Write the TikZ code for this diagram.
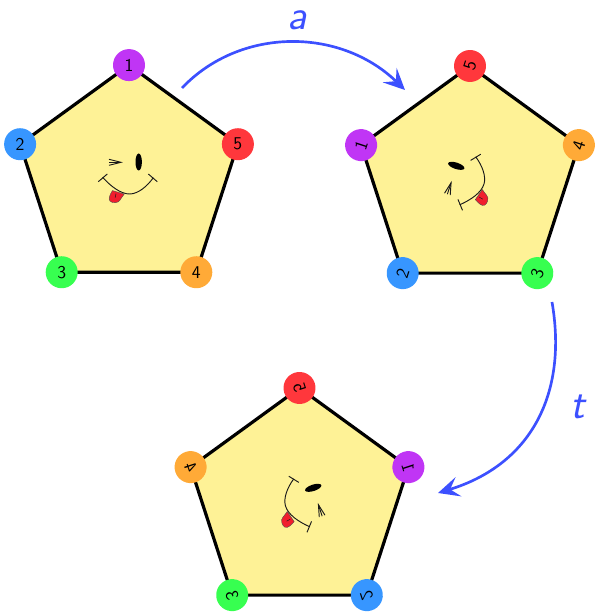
\documentclass[tikz,border=0pt]{standalone}
\usetikzlibrary{arrows.meta}
\definecolor{pfill}{RGB}{254,242,150}
\definecolor{cpurple}{RGB}{192,53,245}
\definecolor{cblue}{RGB}{55,150,255}
\definecolor{cgreen}{RGB}{55,255,80}
\definecolor{corange}{RGB}{255,170,55}
\definecolor{cred}{RGB}{255,55,60}
\definecolor{carrow}{RGB}{60,80,255}
\definecolor{ctongue}{RGB}{240,30,45}
\tikzset{
  x=.75pt,y=.75pt,
  pent/.style={draw=black,fill=pfill,line width=2.4pt,line join=miter},
  vertexdot/.style={circle,minimum size=24pt,inner sep=0pt,fill=#1,font=\fontsize{13.5}{13.5}\selectfont\sffamily,text=black},
  faceline/.style={draw=black!90,line width=.7pt},
  eyeball/.style={fill=black},
  tonguefill/.style={fill=ctongue,draw=black!70,line width=.3pt},
  mapping/.style={draw=carrow,line width=2pt,-{Stealth[length=16pt,width=15pt,inset=6.5pt]}},
  maplabel/.style={text=carrow,font=\fontsize{32}{32}\selectfont\sffamily\itshape,inner sep=0pt},
}
\newcommand{\smileface}{%
  \path[eyeball] (9.7,17.6) ellipse [x radius=3.2,y radius=8.5];
  \draw[faceline] (-20,20.3) -- (-8,17.3) -- (-20,14.3);
  \draw[faceline] (-20,17.3) -- (-8,17.3);
  \path[tonguefill] (-16.5,-11) .. controls (-19,-15) and (-21,-19) .. (-19,-21.5)
     .. controls (-16.5,-24) and (-10.5,-23.5) .. (-9,-20.5)
     .. controls (-8,-18) and (-6,-17) .. (-4.8,-14.5) -- cycle;
  \draw[faceline,line width=.35pt] (-13,-14) -- (-13.8,-18);
  \draw[faceline] (-26.3,2.3) .. controls (-18,-7) and (-8,-14.6) .. (1,-14.4)
     .. controls (9,-14.2) and (18,-7) .. (24.3,1.9);
  \draw[faceline] (-30.7,-2.1) -- (-21.7,5.6);
  \draw[faceline] (19.3,5.6) -- (28.3,-2.1);
}
\begin{document}
\begin{tikzpicture}
\useasboundingbox (0,0) rectangle (596,614);
\newcommand{\vtx}[4]{\node[vertexdot=#3,transform shape] (#1) at (#2) {#4};}
\newcommand{\pentshape}[1]{%
  \coordinate (#1a) at (90:114.5);
  \coordinate (#1b) at (162:114.5);
  \coordinate (#1c) at (234:114.5);
  \coordinate (#1d) at (306:114.5);
  \coordinate (#1e) at (18:114.5);
  \path[pent] (#1a) -- (#1b) -- (#1c) -- (#1d) -- (#1e) -- cycle;
  \smileface
}
% first pentagon
\begin{scope}[shift={(129,434.4)}]
  \pentshape{p}
  \vtx{pn1}{pa}{cpurple}{1}
  \vtx{pn2}{pb}{cblue}{2}
  \vtx{pn3}{pc}{cgreen}{3}
  \vtx{pn4}{pd}{corange}{4}
  \vtx{pn5}{pe}{cred}{5}
\end{scope}
% second pentagon
\begin{scope}[shift={(470,433.5)},rotate=72]
  \pentshape{q}
  \vtx{qn1}{qa}{cpurple}{1}
  \vtx{qn2}{qb}{cblue}{2}
  \vtx{qn3}{qc}{cgreen}{3}
  \vtx{qn4}{qd}{corange}{4}
  \vtx{qn5}{qe}{cred}{5}
\end{scope}
% third pentagon
\begin{scope}[shift={(299.5,111.5)},xscale=-1,rotate=72]
  \pentshape{r}
  \vtx{rn1}{ra}{cpurple}{1}
  \vtx{rn2}{rb}{cblue}{2}
  \vtx{rn3}{rc}{cgreen}{3}
  \vtx{rn4}{rd}{corange}{4}
  \vtx{rn5}{re}{cred}{5}
\end{scope}
% arrows
\coordinate (aS) at (182,526);
\coordinate (aE) at (405,524);
\coordinate (tS) at (552,312);
\coordinate (tE) at (438,121);
\draw[mapping] (aS) .. controls (240,587) and (340,587) .. (aE);
\draw[mapping] (tS) .. controls (568,219) and (530,149) .. (tE);
\node[maplabel] (la) at (297,594) {a};
\node[maplabel] (lt) at (578,207) {t};
\end{tikzpicture}
\end{document}
